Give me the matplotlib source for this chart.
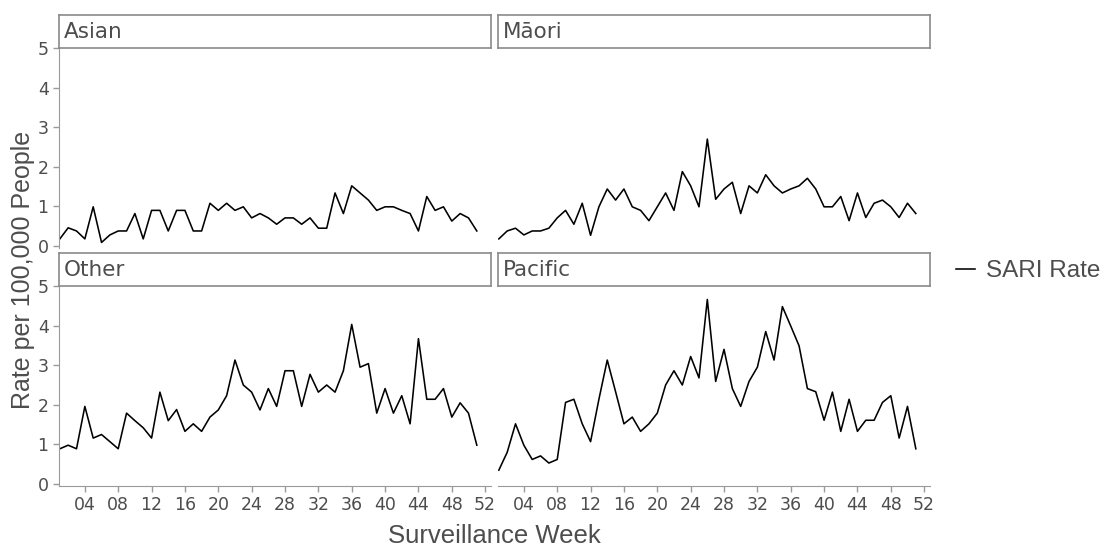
import numpy as np
import matplotlib
matplotlib.use("Agg")
import matplotlib.pyplot as plt
from matplotlib.lines import Line2D

weeks = np.arange(1, 52)

asian = [0.18, 0.46, 0.38, 0.18, 0.99, 0.09, 0.28, 0.38, 0.38, 0.82,
         0.18, 0.90, 0.90, 0.38, 0.90, 0.90, 0.38, 0.38, 1.08, 0.90,
         1.08, 0.90, 0.99, 0.71, 0.82, 0.71, 0.55, 0.71, 0.71, 0.55,
         0.71, 0.45, 0.45, 1.34, 0.82, 1.52, 1.34, 1.16, 0.90, 0.99,
         0.99, 0.90, 0.82, 0.38, 1.25, 0.90, 0.99, 0.63, 0.82, 0.71,
         0.38]
maori = [0.18, 0.38, 0.45, 0.28, 0.38, 0.38, 0.45, 0.71, 0.90, 0.55,
         1.08, 0.27, 0.99, 1.44, 1.16, 1.44, 0.99, 0.90, 0.64, 0.99,
         1.34, 0.90, 1.88, 1.52, 0.99, 2.70, 1.18, 1.44, 1.61, 0.82,
         1.52, 1.34, 1.80, 1.52, 1.34, 1.44, 1.52, 1.71, 1.44, 0.99,
         0.99, 1.25, 0.64, 1.34, 0.72, 1.08, 1.16, 0.99, 0.72, 1.08,
         0.82]
other = [0.89, 0.98, 0.89, 1.96, 1.16, 1.25, 1.07, 0.89, 1.79, 1.60,
         1.42, 1.16, 2.32, 1.60, 1.88, 1.33, 1.52, 1.33, 1.69, 1.87,
         2.23, 3.13, 2.50, 2.32, 1.87, 2.41, 1.96, 2.86, 2.86, 1.96,
         2.77, 2.32, 2.50, 2.32, 2.86, 4.03, 2.95, 3.04, 1.79, 2.41,
         1.79, 2.23, 1.52, 3.67, 2.14, 2.14, 2.41, 1.69, 2.05, 1.79,
         0.98]
pacific = [0.35, 0.80, 1.52, 0.98, 0.62, 0.71, 0.53, 0.62, 2.06, 2.14,
           1.52, 1.07, 2.14, 3.13, 2.33, 1.52, 1.69, 1.33, 1.52, 1.79,
           2.50, 2.86, 2.50, 3.22, 2.68, 4.66, 2.59, 3.40, 2.41, 1.96,
           2.59, 2.95, 3.85, 3.13, 4.48, 3.99, 3.49, 2.41, 2.33, 1.61,
           2.32, 1.33, 2.14, 1.33, 1.61, 1.61, 2.06, 2.23, 1.16, 1.96,
           0.89]

groups = ["Asian", "Māori", "Other", "Pacific"]
series = [asian, maori, other, pacific]
series_name = "SARI Rate"
xticks = np.arange(4, 53, 4)
xtick_labels = [f"{w:02d}" for w in xticks]
yticks = [0, 1, 2, 3, 4, 5]

W, H = 1104, 552
fig = plt.figure(figsize=(W / 100, H / 100), dpi=100)

grey = "#9a9a9a"
txt = "#4d4d4d"
lefts = [59, 498]
pw = 432
tops = [48, 286]
ph = 200
strip_h = 33

for i, (name, vals) in enumerate(zip(groups, series)):
    r, c = divmod(i, 2)
    x0 = lefts[c]
    top = tops[r]
    ax = fig.add_axes([x0 / W, (H - top - ph) / H, pw / W, ph / H])
    ax.plot(weeks, vals, color="black", lw=1.15)
    ax.set_xlim(0.9, 52.7)
    ax.set_ylim(-0.05, 5.0)
    ax.set_xticks(xticks)
    ax.set_yticks(yticks)
    for s in ["top", "right"]:
        ax.spines[s].set_visible(False)
    ax.spines["left"].set_color(grey)
    ax.spines["bottom"].set_color(grey)
    ax.tick_params(colors=grey, labelcolor=txt, labelsize=12.5, length=4, width=1)
    if c == 1:
        ax.spines["left"].set_visible(False)
        ax.tick_params(axis="y", left=False, labelleft=False)
    if r == 0:
        ax.spines["bottom"].set_visible(False)
        ax.tick_params(axis="x", bottom=False, labelbottom=False)
    else:
        ax.set_xticklabels(xtick_labels)

    # facet strip
    sax = fig.add_axes([x0 / W, (H - top) / H, pw / W, strip_h / H])
    sax.set_xticks([])
    sax.set_yticks([])
    for s in sax.spines.values():
        s.set_color("#8a8a8a")
        s.set_linewidth(1.2)
    sax.text(0.012, 0.5, name, transform=sax.transAxes, ha="left", va="center",
             fontsize=15.5, color=txt)

fig.text(23 / W, 1 - 270 / H, "Rate per 100,000 People", rotation=90,
         ha="center", va="center", fontsize=18, color=txt,
         family="Liberation Sans")
fig.text(494 / W, 1 - 536 / H, "Surveillance Week", ha="center", va="center",
         fontsize=18.5, color=txt, family="Liberation Sans")

handle = Line2D([], [], color="black", lw=1.15)
fig.legend([handle], [series_name], loc="center left",
           bbox_to_anchor=(956 / W, 1 - 271 / H), frameon=False,
           borderpad=0, borderaxespad=0,
           handlelength=0.8, handletextpad=0.42,
           prop={"family": "Liberation Sans", "size": 17.5},
           labelcolor=txt)

fig.savefig("out.png", dpi=100, facecolor="white")
